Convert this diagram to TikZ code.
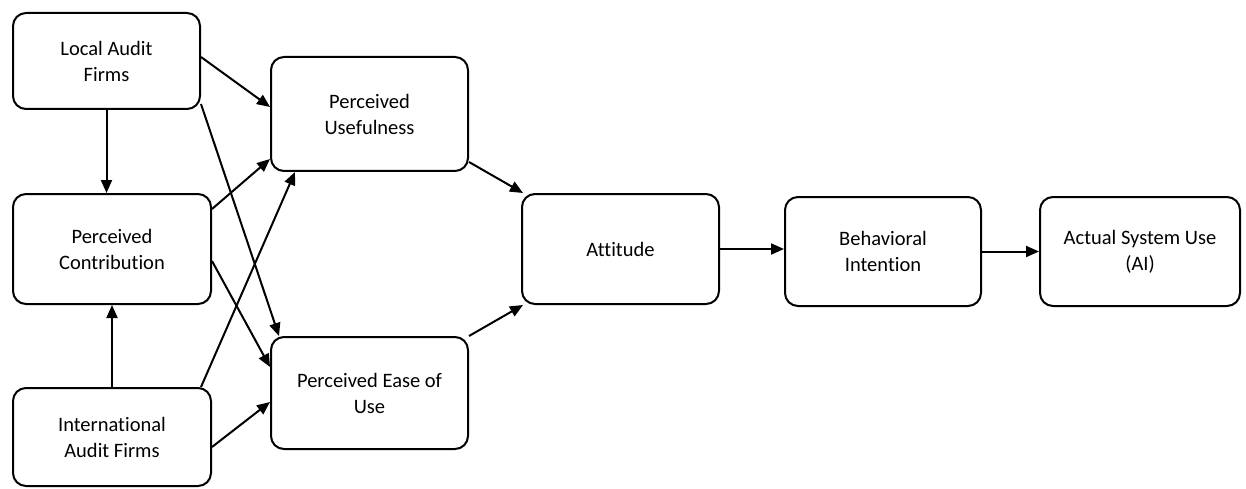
\documentclass[tikz,border=0pt]{standalone}
\usepackage{fontspec}
\setmainfont{Carlito}[Ligatures={NoCommon}]
\usetikzlibrary{arrows.meta,calc}
\tikzset{
  box/.style={draw, line width=2pt, rounded corners=13pt, align=center, inner sep=0pt,
              font=\fontsize{20.5}{26}\selectfont},
  link/.style={draw, line width=2pt, -{Triangle[length=13pt,width=11pt]}}
}
\begin{document}
\begin{tikzpicture}[x=1pt,y=-1pt]
\useasboundingbox (0,0) rectangle (1246,489);
\node[box, minimum width=187pt, minimum height=96pt] (LF) at (106.5,61) {Local Audit\\Firms};
\node[box, minimum width=198pt, minimum height=110pt] (PC) at (112,249) {Perceived\\Contribution};
\node[box, minimum width=198pt, minimum height=98pt] (IF) at (112,437) {International\\Audit Firms};
\node[box, minimum width=197pt, minimum height=114pt] (PU) at (369.5,114) {Perceived\\Usefulness};
\node[box, minimum width=197pt, minimum height=112pt] (PE) at (369.5,393) {Perceived Ease of\\Use};
\node[box, minimum width=197pt, minimum height=110pt] (AT) at (620.5,249) {Attitude};
\node[box, minimum width=196pt, minimum height=109pt] (BI) at (883,251.5) {Behavioral\\Intention};
\node[box, minimum width=200pt, minimum height=109pt] (AS) at (1140,251.5) {Actual System Use\\(AI)};

\draw[link] ($(LF.north east)+(0,45)$) -- ($(PU.north west)+(0,51)$);
\draw[link] ($(LF.south east)+(0,-6)$) -- ($(PE.north west)+(9,0)$);
\draw[link] (LF.south) -- (LF.south |- PC.north);
\draw[link] ($(PC.north east)+(0,16)$) -- ($(PU.south west)+(0,-13)$);
\draw[link] ($(IF.north east)+(-11,0)$) -- ($(PU.south west)+(25,0)$);
\draw[link] ($(PC.north east)+(0,68)$) -- ($(PE.north west)+(0,31)$);
\draw[link] ($(IF.north east)+(0,60)$) -- ($(PE.north west)+(0,66)$);
\draw[link] (IF.north) -- (IF.north |- PC.south);
\draw[link] ($(PU.south east)+(0,-10)$) -- ($(AT.north west)+(2,0)$);
\draw[link] (PE.north east) -- ($(AT.south west)+(2,0)$);
\draw[link] (AT.east) -- (AT.east -| BI.west);
\draw[link] (BI.east) -- (BI.east -| AS.west);
\end{tikzpicture}
\end{document}
